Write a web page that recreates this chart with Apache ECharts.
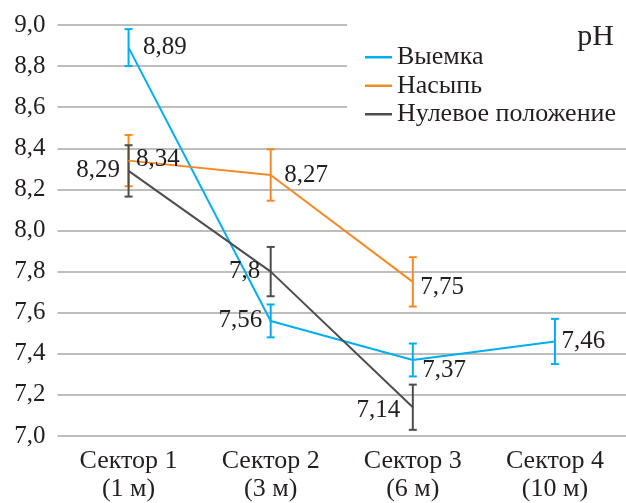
<!DOCTYPE html>
<html>
<head>
<meta charset="utf-8">
<script src="https://cdn.jsdelivr.net/npm/echarts@6/dist/echarts.min.js"></script>
<style>html,body{margin:0;padding:0;background:#fff;}#c{width:626px;height:503px;}</style>
</head>
<body>
<div id="c"></div>
<script>
var categories = ['Сектор 1\n(1 м)', 'Сектор 2\n(3 м)', 'Сектор 3\n(6 м)', 'Сектор 4\n(10 м)'];
var seriesNames = ['Выемка', 'Насыпь', 'Нулевое положение'];
var vyemka = [8.89, 7.56, 7.37, 7.46];
var nasyp = [8.34, 8.27, 7.75, null];
var nulevoe = [8.29, 7.8, 7.14, null];
var vyemkaErr = [0.09, 0.08, 0.08, 0.11];
var nasypErr = [0.125, 0.125, 0.12, null];
var nulevoeErr = [0.125, 0.12, 0.11, null];
var yTicks = [7.0, 7.2, 7.4, 7.6, 7.8, 8.0, 8.2, 8.4, 8.6, 8.8, 9.0];

var colors = ['#00AEEF', '#F58A25', '#4D4D4D'];
var FONT = '"Liberation Serif", "DejaVu Serif", serif';
var TXT = '#231F20';

// label placement per point: [position, dx, dy]
var labelPlace = [
  [['right', 14, 0], ['left', -8, 0], ['right', 9, 10], ['right', 6, 0]],
  [['right', 7, -1], ['right', 13, 0], ['right', 7, 6], null],
  [['left', -8, 0], ['left', -10, 0], ['left', -12, 3], null]
];

function fmt(v) { return String(v).replace('.', ','); }

function buildLine(idx, vals) {
  return {
    name: seriesNames[idx],
    type: 'line',
    symbol: 'circle',
    symbolSize: 1,
    itemStyle: { color: colors[idx] },
    lineStyle: { color: colors[idx], width: 2 },
    z: 3 + idx,
    data: vals.map(function (v, i) {
      if (v === null) return null;
      var p = labelPlace[idx][i];
      return {
        value: v,
        label: {
          show: true,
          position: p[0],
          distance: 0,
          offset: [p[1], p[2]],
          formatter: fmt(v),
          fontFamily: FONT,
          fontSize: 25,
          color: TXT
        }
      };
    })
  };
}

function buildErr(idx, vals, errs) {
  var d = [];
  vals.forEach(function (v, i) {
    if (v !== null) d.push([i, v - errs[i], v + errs[i]]);
  });
  return {
    type: 'custom',
    name: seriesNames[idx] + ' err',
    z: 2 + idx,
    renderItem: function (params, api) {
      var x = api.value(0);
      var lo = api.coord([x, api.value(1)]);
      var hi = api.coord([x, api.value(2)]);
      var hw = 4;
      var st = { stroke: colors[idx], lineWidth: 2 };
      return {
        type: 'group',
        children: [
          { type: 'line', shape: { x1: lo[0], y1: lo[1], x2: hi[0], y2: hi[1] }, style: st },
          { type: 'line', shape: { x1: lo[0] - hw, y1: lo[1], x2: lo[0] + hw, y2: lo[1] }, style: st },
          { type: 'line', shape: { x1: hi[0] - hw, y1: hi[1], x2: hi[0] + hw, y2: hi[1] }, style: st }
        ]
      };
    },
    encode: { x: 0, y: [1, 2] },
    data: d,
    silent: true
  };
}

var chart = echarts.init(document.getElementById('c'), null, { renderer: 'canvas' });
chart.setOption({
  backgroundColor: '#fff',
  animation: false,
  textStyle: { fontFamily: FONT },
  title: {
    text: 'pH',
    right: 7,
    top: 17,
    z: 20,
    textStyle: { fontFamily: FONT, fontSize: 30, fontWeight: 'normal', color: TXT }
  },
  graphic: [{
    type: 'rect',
    shape: { x: 347, y: 0, width: 279, height: 127 },
    style: { fill: '#fff' },
    z: 10
  }],
  legend: {
    orient: 'vertical',
    left: 365,
    top: 43,
    padding: 0,
    itemGap: 0,
    itemWidth: 27,
    itemHeight: 2.5,
    icon: 'rect',
    z: 20,
    data: seriesNames.map(function (n, i) { return { name: n, itemStyle: { color: colors[i] } }; }),
    textStyle: { fontFamily: FONT, fontSize: 26, color: TXT, lineHeight: 28.5 }
  },
  grid: { left: 57.5, width: 570, top: 25, bottom: 65, containLabel: false },
  xAxis: {
    type: 'category',
    data: categories,
    boundaryGap: true,
    axisLine: { show: false },
    axisTick: { show: false },
    axisLabel: {
      margin: 11,
      fontFamily: FONT,
      fontSize: 26,
      lineHeight: 28,
      color: TXT
    }
  },
  yAxis: {
    type: 'value',
    min: 7.0,
    max: 9.0,
    interval: 0.2,
    axisLine: { show: false },
    axisTick: { show: false },
    splitLine: { lineStyle: { color: '#A7A7A7', width: 1.5 } },
    axisLabel: {
      margin: 12,
      fontFamily: FONT,
      fontSize: 25,
      color: TXT,
      formatter: function (v) { return v.toFixed(1).replace('.', ','); }
    }
  },
  series: [
    buildErr(0, vyemka, vyemkaErr),
    buildErr(1, nasyp, nasypErr),
    buildErr(2, nulevoe, nulevoeErr),
    buildLine(0, vyemka),
    buildLine(1, nasyp),
    buildLine(2, nulevoe)
  ]
});
</script>
</body>
</html>
